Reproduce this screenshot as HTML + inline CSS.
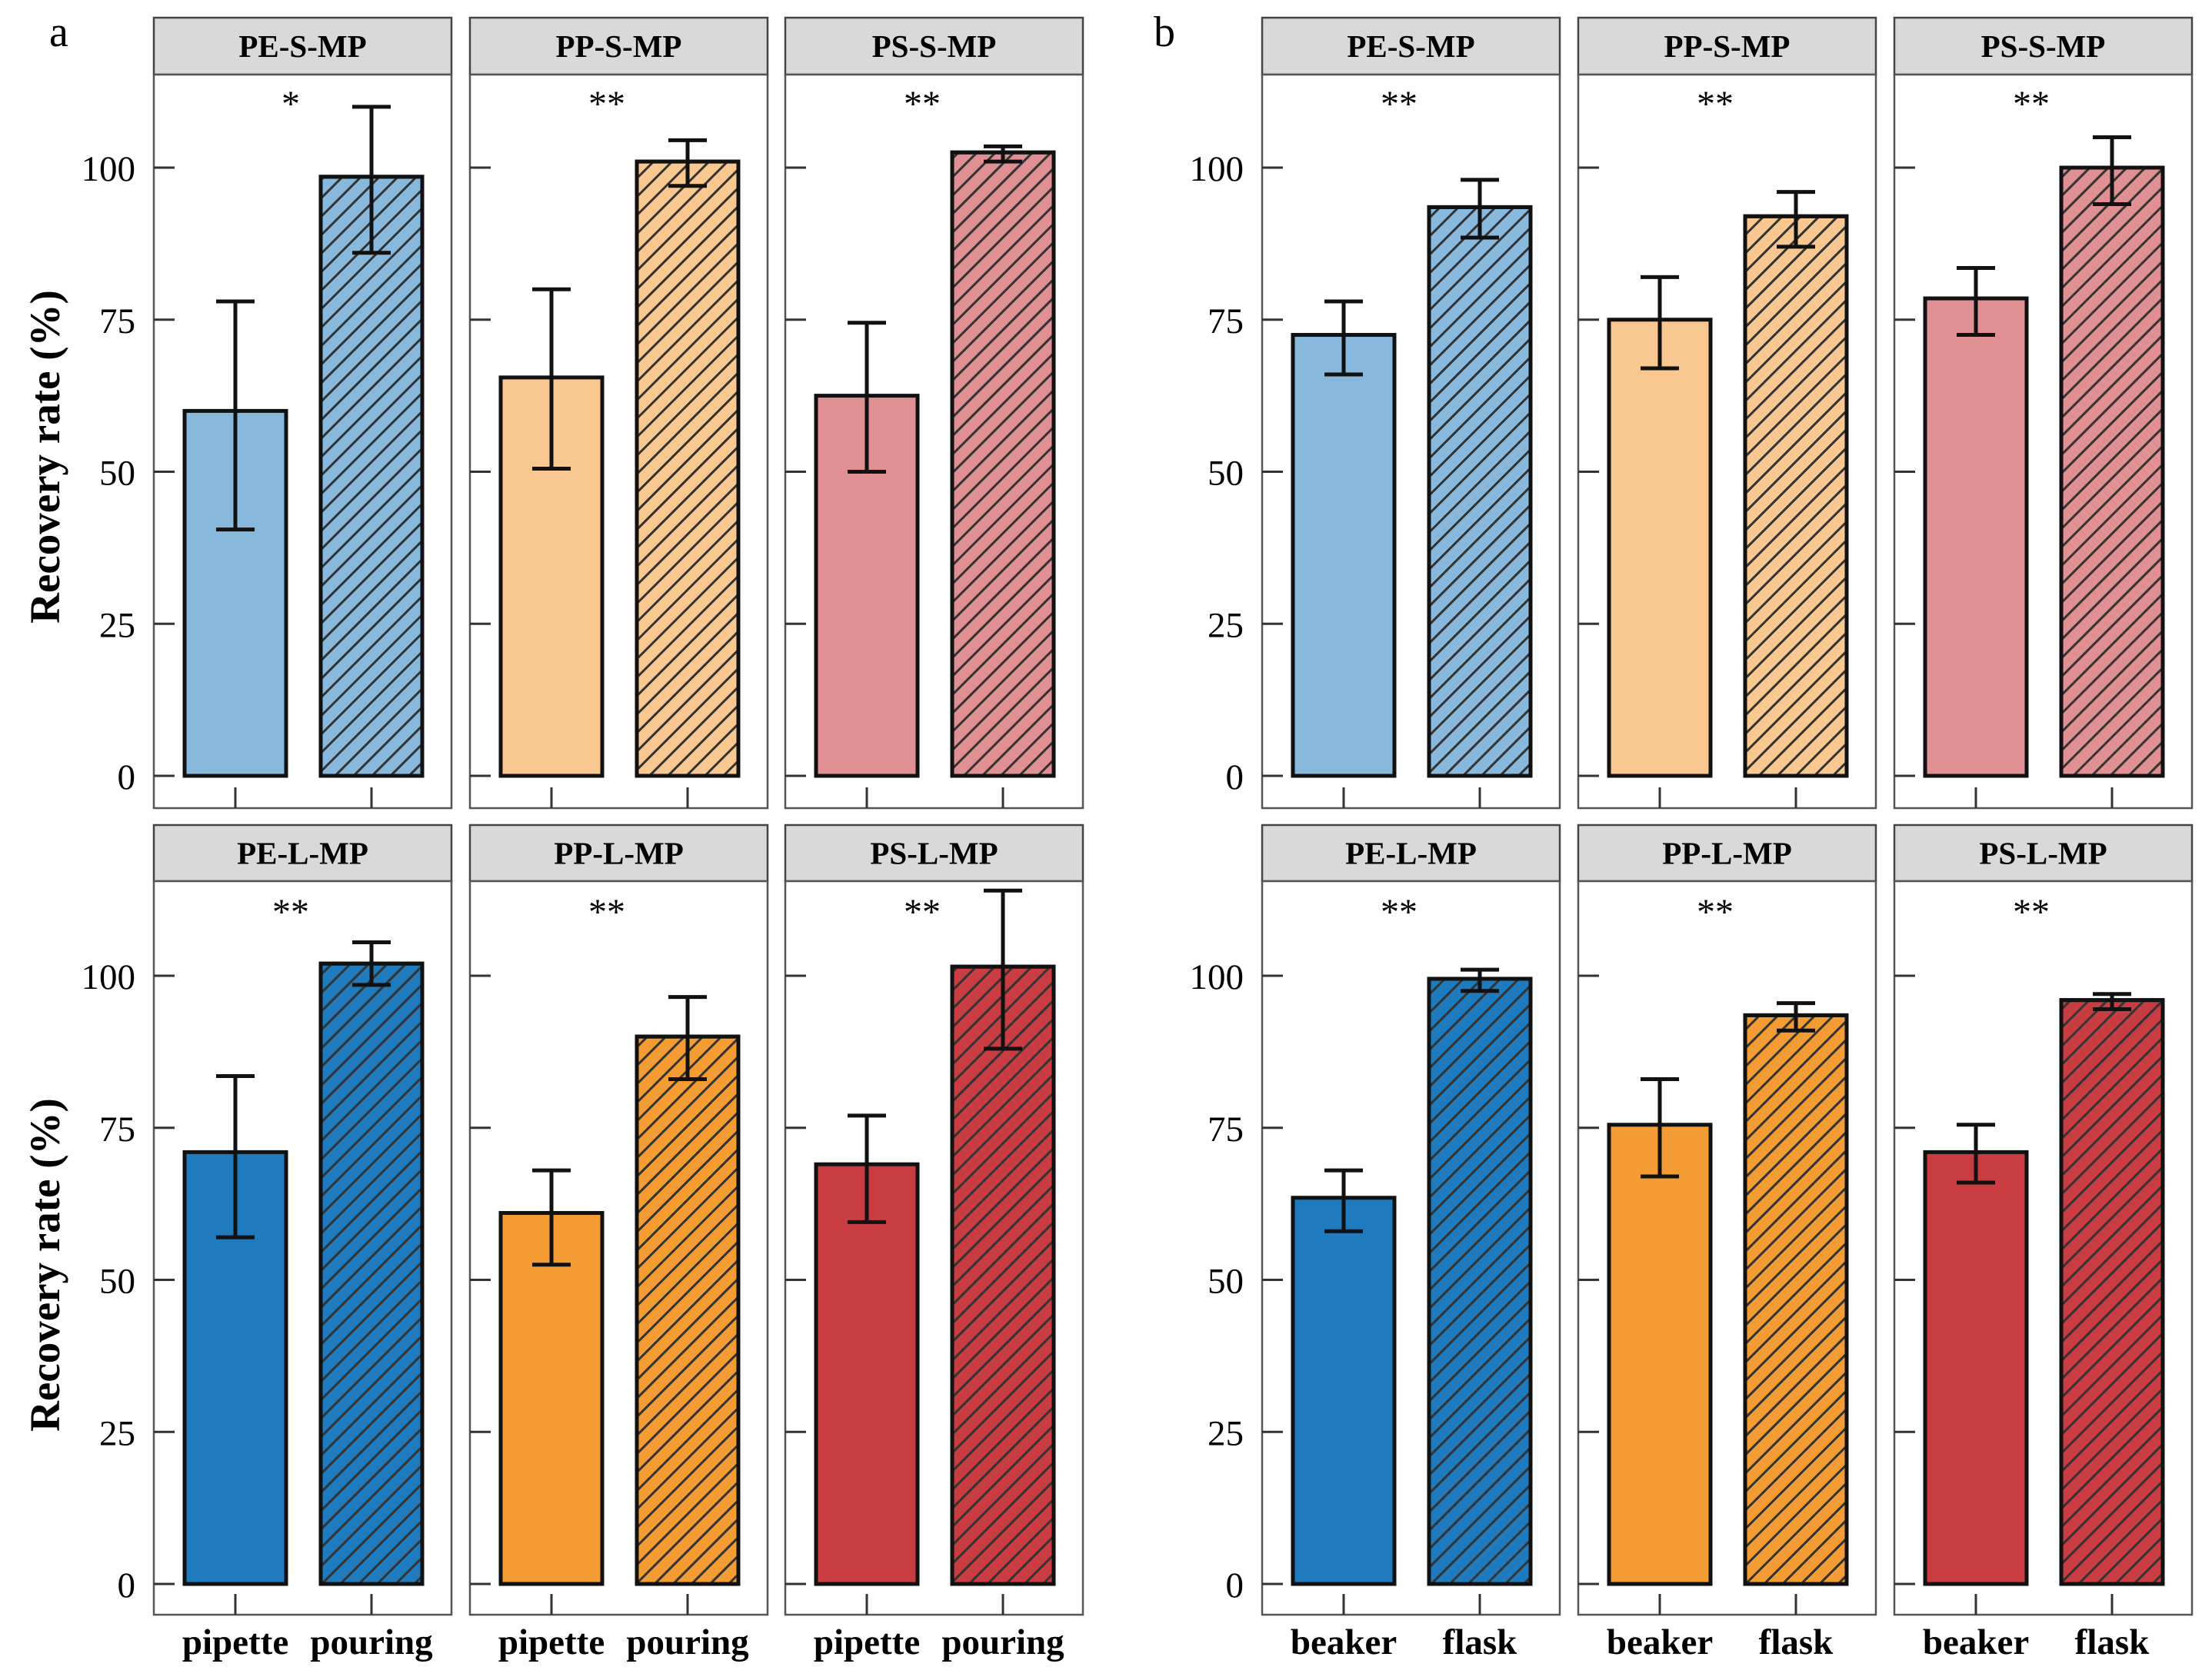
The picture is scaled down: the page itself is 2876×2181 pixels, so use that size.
<!DOCTYPE html>
<html><head><meta charset="utf-8">
<style>
html,body{margin:0;padding:0;background:#fff;}
svg{display:block;font-family:"Liberation Serif",serif;}
</style></head>
<body>
<svg id="chart" width="2876" height="2181" viewBox="0 0 2876 2181" xmlns="http://www.w3.org/2000/svg">
<defs>
<pattern id="hatch" patternUnits="userSpaceOnUse" width="17" height="17" patternTransform="rotate(45)">
<line x1="0" y1="0" x2="0" y2="17" stroke="#333" stroke-width="6"/>
</pattern>
</defs>
</svg>
<script>
const panelTitles = ["PE-S-MP","PP-S-MP","PS-S-MP","PE-L-MP","PP-L-MP","PS-L-MP"];
const categoriesA = ["pipette","pouring"];
const categoriesB = ["beaker","flask"];
const yTicks = [0,25,50,75,100];
const meansA = [[60,98.5],[65.5,101],[62.5,102.5],[71,102],[61,90],[69,101.5]];
const lowA   = [[40.5,86],[50.5,97],[50,101],[57,98.5],[52.5,83],[59.5,88]];
const highA  = [[78,110],[80,104.5],[74.5,103.5],[83.5,105.5],[68,96.5],[77,114]];
const meansB = [[72.5,93.5],[75,92],[78.5,100],[63.5,99.5],[75.5,93.5],[71,96]];
const lowB   = [[66,88.5],[67,87],[72.5,94],[58,97.5],[67,91],[66,94.5]];
const highB  = [[78,98],[82,96],[83.5,105],[68,101],[83,95.5],[75.5,97]];
const starsA = ["*","**","**","**","**","**"];
const starsB = ["**","**","**","**","**","**"];
const fillColors = ["#88b9dc","#f9c890","#e09093","#1f7bbd","#f29c33","#c93c41"];

const svg = document.getElementById('chart');
const NS = "http://www.w3.org/2000/svg";
function mk(tag, attrs, parent){
  const e = document.createElementNS(NS, tag);
  for (const k in attrs) e.setAttribute(k, attrs[k]);
  (parent||svg).appendChild(e);
  return e;
}
const panelW = 387;
const panelXsA = [200,611,1021];
const panelXsB = [1641,2052,2463];
const rows = [{stripTop:23, top:97, bottom:1051, zero:1009},{stripTop:1073, top:1146, bottom:2100, zero:2060}];
const pxPerUnit = 7.91;
function yScale(row, v){ return rows[row].zero - v*pxPerUnit; }
const barOff = [40,217], barW = 132;
function xScale(px, i){ return px + barOff[i] + barW/2; }

function drawSet(panelXs, means, low, high, stars, cats, setName){
  for (let p=0;p<6;p++){
    const row = p<3?0:1, col = p%3;
    const r = rows[row], px = panelXs[col];
    const g = mk('g',{});
    
    
    const strip = mk('rect',{x:px,y:r.stripTop,width:panelW,height:r.top-r.stripTop,fill:'#d9d9d9',stroke:'#444','stroke-width':2.5},g);
    
    
    const st = mk('text',{x:px+panelW/2,y:(r.stripTop+r.top)/2+14,'text-anchor':'middle','font-size':41,'font-weight':'bold'},g);
    st.textContent = panelTitles[p];
    
    
    const pb = mk('rect',{x:px,y:r.top,width:panelW,height:r.bottom-r.top,fill:'#fff',stroke:'#555','stroke-width':2.5},g);
    
    
    yTicks.forEach(t=>{
      const y = yScale(row,t);
      const tk = mk('line',{x1:px,x2:px+27,y1:y,y2:y,stroke:'#333','stroke-width':3},g);
      
      
      if (col===0){
        const tl = mk('text',{x:px-24,y:y+17,'text-anchor':'end','font-size':47},g);
        tl.textContent = t;
        
        
      }
    });
    for (let i=0;i<2;i++){
      const cx = xScale(px,i);
      const tk = mk('line',{x1:cx,x2:cx,y1:r.bottom-27,y2:r.bottom,stroke:'#333','stroke-width':3},g);
      
      
      const y0 = yScale(row,0), y1 = yScale(row,means[p][i]);
      const bar = mk('rect',{x:px+barOff[i],y:y1,width:barW,height:y0-y1,fill:fillColors[p],stroke:'#111','stroke-width':5},g);
      
      
      if (i===1){
        const h = mk('rect',{x:px+barOff[i],y:y1,width:barW,height:y0-y1,fill:'url(#hatch)',stroke:'#111','stroke-width':5},g);
        
        
      }
      const yl = yScale(row,low[p][i]), yh = yScale(row,high[p][i]);
      const eb = mk('path',{d:`M${cx},${yl}V${yh}M${cx-25},${yl}H${cx+25}M${cx-25},${yh}H${cx+25}`,stroke:'#111','stroke-width':5,fill:'none'},g);
      
      
      if (row===1){
        const xl = mk('text',{x:cx,y:2151,'text-anchor':'middle','font-size':47,'font-weight':'bold'},g);
        xl.textContent = cats[i];
        
        
      }
    }
    const sx = px+178;
    const s = mk('text',{x:sx,y:yScale(row,108.5),'text-anchor':'middle','font-size':48},g);
    s.textContent = stars[p];
    
    
  }
}
drawSet(panelXsA, meansA, lowA, highA, starsA, categoriesA, 'a');
drawSet(panelXsB, meansB, lowB, highB, starsB, categoriesB, 'b');

[[1009-415,'top'],[2060-415,'bottom']].forEach(([cy,nm])=>{
  const t = mk('text',{x:0,y:0,'text-anchor':'middle','font-size':55,'font-weight':'bold',transform:`translate(77,${cy}) rotate(-90)`});
  t.textContent = 'Recovery rate (%)';
  
  
});
const la = mk('text',{x:64,y:60,'font-size':56});
la.textContent='a';


const lb = mk('text',{x:1500,y:60,'font-size':56});
lb.textContent='b';


</script>
</body></html>
